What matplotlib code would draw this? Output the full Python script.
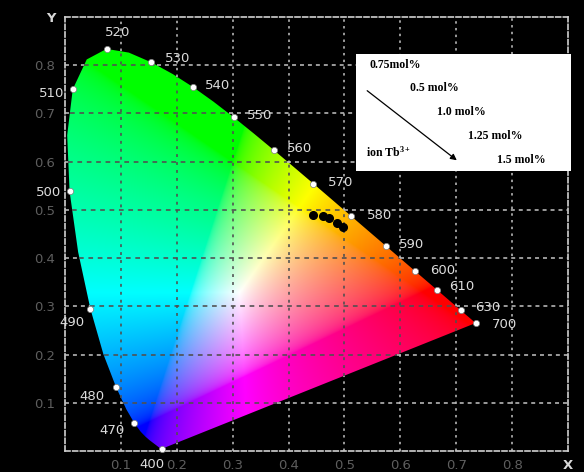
import numpy as np
import matplotlib
matplotlib.use("Agg")
import matplotlib.pyplot as plt
from matplotlib.patches import Polygon, Rectangle, FancyArrowPatch

# ---------------------------------------------------------------------------
# DATA
# ---------------------------------------------------------------------------

# CIE 1931 2-degree spectral locus, chromaticity (x, y) every 5 nm
LOCUS_NM = [380, 385, 390, 395, 400, 405, 410, 415, 420, 425, 430, 435, 440,
            445, 450, 455, 460, 465, 470, 475, 480, 485, 490, 495, 500, 505,
            510, 515, 520, 525, 530, 535, 540, 545, 550, 555, 560, 565, 570,
            575, 580, 585, 590, 595, 600, 605, 610, 615, 620, 625, 630, 635,
            640, 645, 650, 655, 660, 665, 670, 680, 690, 700]
LOCUS_X = [0.1741, 0.1740, 0.1738, 0.1736, 0.1733, 0.1730, 0.1726, 0.1721,
           0.1714, 0.1703, 0.1689, 0.1669, 0.1644, 0.1611, 0.1566, 0.1510,
           0.1440, 0.1355, 0.1241, 0.1096, 0.0913, 0.0687, 0.0454, 0.0235,
           0.0082, 0.0039, 0.0139, 0.0389, 0.0743, 0.1142, 0.1547, 0.1929,
           0.2296, 0.2658, 0.3016, 0.3373, 0.3731, 0.4087, 0.4441, 0.4788,
           0.5125, 0.5448, 0.5752, 0.6029, 0.6270, 0.6482, 0.6658, 0.6801,
           0.6915, 0.7006, 0.7079, 0.7140, 0.7190, 0.7230, 0.7260, 0.7283,
           0.7300, 0.7311, 0.7320, 0.7334, 0.7344, 0.7347]
LOCUS_Y = [0.0050, 0.0050, 0.0049, 0.0049, 0.0048, 0.0048, 0.0048, 0.0048,
           0.0051, 0.0058, 0.0069, 0.0086, 0.0109, 0.0138, 0.0177, 0.0227,
           0.0297, 0.0399, 0.0578, 0.0868, 0.1327, 0.2007, 0.2950, 0.4127,
           0.5384, 0.6548, 0.7502, 0.8120, 0.8338, 0.8262, 0.8059, 0.7816,
           0.7543, 0.7243, 0.6923, 0.6589, 0.6245, 0.5896, 0.5547, 0.5202,
           0.4866, 0.4544, 0.4242, 0.3965, 0.3725, 0.3514, 0.3340, 0.3197,
           0.3083, 0.2993, 0.2920, 0.2859, 0.2809, 0.2770, 0.2740, 0.2717,
           0.2700, 0.2689, 0.2680, 0.2666, 0.2656, 0.2653]

# wavelengths marked on the locus, with label offsets in pixels (dx, dy)
MARK_NM = [400, 470, 480, 490, 500, 510, 520, 530, 540, 550, 560, 570,
           580, 590, 600, 610, 630, 700]
MARK_DX = [-10, -22, -24, -18, -21, -21, 11, 26, 24, 26, 26, 27,
           28, 25, 27, 25, 27, 29]
MARK_DY = [-16, -7, -9, -14, -1, -4, 16, 4, 2, 2, 1, 1,
           1, 2, 1, 3, 3, -1]

# CIE coordinates of the Tb3+ doped samples
SAMPLE_X = [0.443, 0.461, 0.473, 0.486, 0.497]
SAMPLE_Y = [0.490, 0.488, 0.484, 0.473, 0.465]
SAMPLE_LABELS = ["0.75mol%", "0.5 mol%", "1.0 mol%", "1.25 mol%", "1.5 mol%"]

TICKS = [0.1, 0.2, 0.3, 0.4, 0.5, 0.6, 0.7, 0.8]
X_TICKLABELS = ["0.1", "0.2", "0.3", "0.4", "0.5", "0.6", "0.7", "0.8"]
Y_TICKLABELS = ["0.1", "0.2", "0.3", "0.4", "0.5", "0.6", "0.7", "0.8"]

W, H = 584, 472
LIM = 0.9


def chromaticity_rgb(xx, yy):
    """sRGB colour of each chromaticity point, scaled to full brightness."""
    ys = np.maximum(yy, 1e-6)
    xyz = np.stack([xx / ys, np.ones_like(xx), (1 - xx - yy) / ys], axis=-1)
    m = np.array([[3.2406, -1.5372, -0.4986],
                  [-0.9689, 1.8758, 0.0415],
                  [0.0557, -0.2040, 1.0570]])
    rgb = np.clip(xyz @ m.T, 0, None)
    rgb /= rgb.max(axis=-1, keepdims=True) + 1e-9
    rgb = np.where(rgb <= 0.0031308, 12.92 * rgb, 1.055 * rgb ** (1 / 2.4) - 0.055)
    return np.clip(rgb, 0, 1)


def crossings(level, along, across):
    """Where the closed locus crosses a grid line (across == level)."""
    a = np.append(along, along[0])
    c = np.append(across, across[0])
    hits = []
    for i in range(len(a) - 1):
        if (c[i] - level) * (c[i + 1] - level) < 0:
            hits.append(a[i] + (level - c[i]) * (a[i + 1] - a[i]) / (c[i + 1] - c[i]))
    return sorted(hits)


fig = plt.figure(figsize=(W / 100, H / 100), dpi=100)
fig.patch.set_facecolor("black")
ax = fig.add_axes([65 / W, (H - 451) / H, (568 - 65) / W, (451 - 17) / H])
ax.set_facecolor("black")

# colour field clipped to the horseshoe
n = 700
gx, gy = np.meshgrid(np.linspace(0, LIM, n), np.linspace(0, LIM, n))
im = ax.imshow(chromaticity_rgb(gx, gy), origin="lower", extent=[0, LIM, 0, LIM],
               aspect="auto", interpolation="bilinear", zorder=1)
locus = Polygon(np.column_stack([LOCUS_X, LOCUS_Y]), closed=True,
                transform=ax.transData, facecolor="none", edgecolor="none")
ax.add_patch(locus)
im.set_clip_path(locus)
ax.set_xlim(0, LIM)
ax.set_ylim(0, LIM)

# dashed grid: light over the black background, dark over the colours
h_dash = (0, (2.6, 2.6))
v_dash = (0, (1.6, 2.8))
light = dict(color="#c4c4c4", lw=1.1, zorder=3)
dark = dict(color="#505050", lw=1.3, alpha=0.9, zorder=3)
for t in TICKS:
    hx = [0] + crossings(t, LOCUS_X, LOCUS_Y) + [LIM]
    vy = [0] + crossings(t, LOCUS_Y, LOCUS_X) + [LIM]
    for k in range(len(hx) - 1):
        style = dark if k % 2 else light
        ax.plot([hx[k], hx[k + 1]], [t, t], ls=h_dash, **style)
    for k in range(len(vy) - 1):
        style = dark if k % 2 else light
        ax.plot([t, t], [vy[k], vy[k + 1]], ls=v_dash, **style)

for side in ["left", "right", "top", "bottom"]:
    ax.spines[side].set_color("#d0d0d0")
    ax.spines[side].set_linestyle((0, (3, 1.6)))
    ax.spines[side].set_linewidth(1.2)

ax.set_xticks(TICKS + [LIM])
ax.set_xticklabels(X_TICKLABELS + ["X"])
ax.set_yticks(TICKS + [LIM])
ax.set_yticklabels(Y_TICKLABELS + ["Y"])
ax.tick_params(length=0, labelsize=9.5, labelcolor="#5e5e5e")
ax.tick_params(axis="x", pad=6)
ax.tick_params(axis="y", pad=7)
for lab in [ax.get_xticklabels()[-1], ax.get_yticklabels()[-1]]:
    lab.set_color("#d8d8d8")
    lab.set_fontweight("bold")

# wavelength markers on the locus
for nm, dx, dy in zip(MARK_NM, MARK_DX, MARK_DY):
    i = LOCUS_NM.index(nm)
    ax.plot(LOCUS_X[i], LOCUS_Y[i], "o", ms=4.5, mfc="white", mec="#808080",
            mew=0.5, zorder=4, clip_on=False)
    ax.annotate(str(nm), (LOCUS_X[i], LOCUS_Y[i]), xytext=(dx, dy),
                textcoords="offset pixels", ha="center", va="center",
                fontsize=9.5, color="#dcdcdc", zorder=5, annotation_clip=False)

# sample points
ax.plot(SAMPLE_X, SAMPLE_Y, "o", ms=5.5, color="black", zorder=5)

# concentration key
fig.add_artist(Rectangle((356 / W, 1 - 171 / H), 215 / W, 117 / H,
                         transform=fig.transFigure, facecolor="white",
                         edgecolor="none", zorder=6))
plt.rcParams["mathtext.fontset"] = "custom"
plt.rcParams["mathtext.rm"] = "Liberation Serif:bold"
plt.rcParams["mathtext.default"] = "rm"
key_font = dict(family="Liberation Serif", fontweight="bold", fontsize=8.5,
                color="black", va="center", ha="left", zorder=7)
key_pos = [(370, 65), (410, 88), (437, 112), (468, 136), (497, 160)]
for label, (px, py) in zip(SAMPLE_LABELS, key_pos):
    fig.text(px / W, 1 - py / H, label, **key_font)
fig.text(366 / W, 1 - 152 / H, "ion Tb$^{3+}$", **key_font)
fig.add_artist(FancyArrowPatch(
    (365 / W, 1 - 89 / H), (459 / W, 1 - 162 / H), transform=fig.transFigure,
    arrowstyle="-|>", mutation_scale=9, lw=0.9, color="black", zorder=7))

fig.savefig("out.png", dpi=100, facecolor="black")
